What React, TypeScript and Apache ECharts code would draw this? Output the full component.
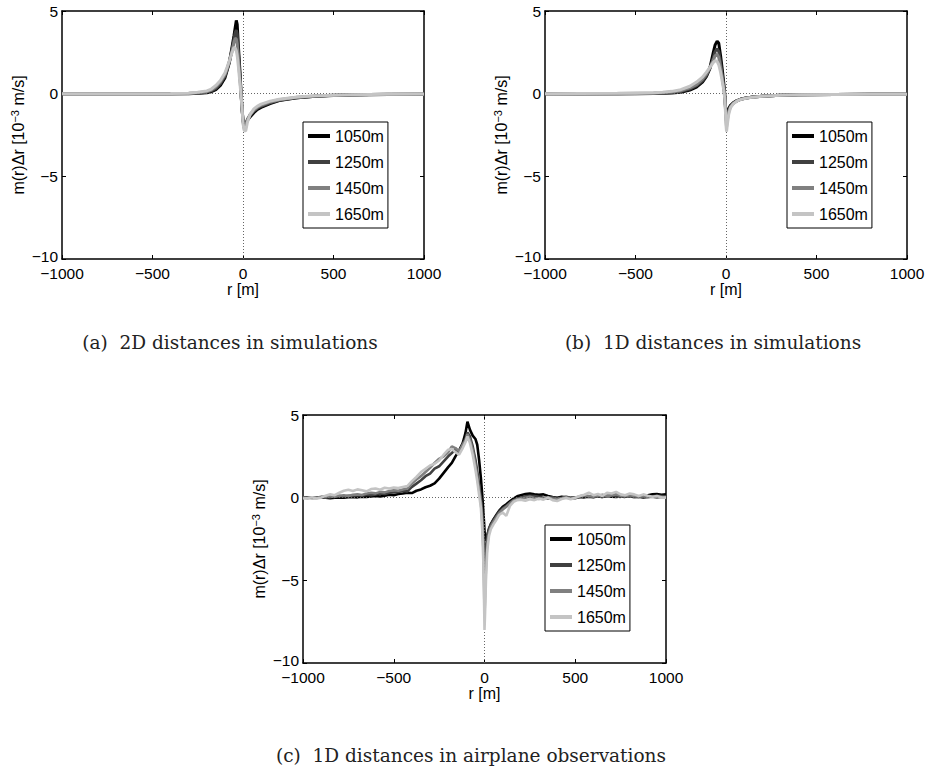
import React, { useEffect, useRef } from "react";
import * as echarts from "echarts";

// ---------- data ----------
const SERIES_NAMES = ["1050m", "1250m", "1450m", "1650m"];

// (a) 2D distances in simulations
const XA = [-1000, -800, -600, -400, -300, -250, -200, -175, -150, -125, -100, -88, -75, -60, -50, -43, -37, -32, -26, -20, -15, -11, -5, 0, 7, 15, 25, 40, 60, 80, 100, 150, 200, 300, 400, 500, 600, 800, 1000];
const A_1050 = [0, 0, 0, 0, 0, 0.02, 0.06, 0.12, 0.25, 0.5, 0.95, 1.4, 1.9, 2.85, 3.5, 4.0, 4.43, 4.2, 3.0, 1.9, 1.0, 0.0, -1.0, -1.6, -2.0, -1.85, -1.6, -1.4, -1.15, -0.95, -0.83, -0.6, -0.42, -0.25, -0.16, -0.11, -0.08, -0.05, -0.03];
const A_1250 = [0, 0, 0, 0, 0.01, 0.03, 0.09, 0.17, 0.32, 0.6, 1.05, 1.45, 1.95, 2.7, 3.3, 3.7, 3.85, 3.6, 2.6, 1.6, 0.8, 0.1, -0.9, -1.6, -2.05, -1.85, -1.55, -1.3, -1.05, -0.88, -0.76, -0.55, -0.4, -0.24, -0.15, -0.1, -0.07, -0.04, -0.03];
const A_1450 = [0, 0, 0, 0.01, 0.02, 0.05, 0.12, 0.22, 0.4, 0.7, 1.15, 1.5, 1.95, 2.6, 3.1, 3.35, 3.3, 3.0, 2.2, 1.3, 0.6, 0.0, -0.9, -1.7, -2.15, -1.9, -1.55, -1.25, -1.0, -0.82, -0.7, -0.5, -0.37, -0.22, -0.14, -0.1, -0.07, -0.04, -0.03];
const A_1650 = [0, 0, 0, 0.01, 0.03, 0.08, 0.17, 0.28, 0.5, 0.8, 1.25, 1.6, 2.0, 2.5, 2.8, 2.75, 2.6, 2.3, 1.7, 1.0, 0.4, -0.1, -0.9, -1.8, -2.25, -2.25, -1.7, -1.25, -0.92, -0.75, -0.63, -0.45, -0.34, -0.2, -0.13, -0.09, -0.06, -0.04, -0.02];

// (b) 1D distances in simulations
const XB = [-1000, -800, -600, -500, -400, -350, -300, -250, -200, -163, -130, -108, -90, -71, -60, -49, -40, -30, -20, -12, -7, -3, 0, 3, 7, 15, 25, 40, 60, 80, 110, 150, 200, 300, 400, 600, 800, 1000];
const B_1050 = [0, 0, 0, 0, 0.01, 0.02, 0.04, 0.08, 0.22, 0.4, 0.7, 1.05, 1.5, 2.45, 2.95, 3.18, 3.05, 2.3, 1.4, 0.6, 0.0, -0.7, -1.2, -1.4, -1.2, -0.9, -0.7, -0.55, -0.42, -0.34, -0.26, -0.2, -0.15, -0.1, -0.07, -0.05, -0.04, -0.03];
const B_1250 = [0, 0, 0, 0.01, 0.02, 0.04, 0.07, 0.12, 0.28, 0.48, 0.78, 1.1, 1.5, 2.15, 2.55, 2.72, 2.55, 1.9, 1.1, 0.4, -0.1, -0.8, -1.4, -1.7, -1.4, -1.0, -0.75, -0.57, -0.43, -0.34, -0.26, -0.2, -0.15, -0.1, -0.07, -0.05, -0.04, -0.03];
const B_1450 = [0, 0, 0.01, 0.02, 0.03, 0.06, 0.1, 0.17, 0.35, 0.55, 0.88, 1.18, 1.55, 2.0, 2.3, 2.38, 2.2, 1.6, 0.9, 0.3, -0.2, -0.9, -1.6, -2.0, -1.6, -1.1, -0.8, -0.6, -0.44, -0.35, -0.27, -0.2, -0.15, -0.1, -0.07, -0.05, -0.04, -0.03];
const B_1650 = [0, 0.01, 0.02, 0.03, 0.05, 0.09, 0.14, 0.24, 0.45, 0.7, 1.0, 1.3, 1.58, 1.88, 2.0, 1.95, 1.75, 1.3, 0.7, 0.2, -0.3, -1.1, -1.9, -2.3, -1.9, -1.25, -0.85, -0.62, -0.45, -0.36, -0.28, -0.21, -0.16, -0.1, -0.07, -0.05, -0.04, -0.03];

// (c) 1D distances in airplane observations
const XC = [
  -1000, -975, -950, -925, -900, -875, -850, -825, -800, -775, -750, -725, -700, -675, -650, -625, -600, -575, -550, -525, -500, -475, -450, -425, -400, -375, -350, -325, -300, -275, -250, -225, -200,
  -180, -160, -140, -120, -105, -94, -80, -65, -50, -40, -30, -20, -12, -6, -2, 0, 3, 8, 15, 25, 35, 50, 65, 80, 100, 120, 140, 160, 180,
  200, 225, 250, 275, 300, 325, 350, 375, 400, 425, 450, 475, 500, 525, 550, 575, 600, 625, 650, 675, 700, 725, 750, 775, 800, 825, 850, 875, 900, 925, 950, 975, 1000,
];
const C_1050 = [
  0.0, 0.0, -0.02, 0.0, 0.02, 0.0, -0.03, 0.0, 0.02, 0.0, 0.03, 0.05, 0.02, 0.06, 0.04, 0.08, 0.1, 0.07, 0.12, 0.18, 0.15, 0.22, 0.25, 0.3, 0.28, 0.42, 0.5, 0.63, 0.72, 0.86, 1.15, 1.5, 1.85,
  2.1, 2.5, 2.85, 3.3, 3.9, 4.6, 4.1, 3.75, 3.55, 3.2, 2.3, 1.2, 0.1, -0.9, -1.6, -2.0, -2.4, -2.6, -2.3, -1.9, -1.6, -1.3, -1.05, -0.8, -0.55, -0.4, -0.22, -0.06, 0.08,
  0.15, 0.22, 0.25, 0.2, 0.18, 0.2, 0.1, 0.04, 0.0, 0.05, 0.02, -0.03, 0.0, 0.04, 0.02, 0.06, 0.03, 0.08, 0.05, 0.1, 0.06, 0.04, 0.08, 0.05, 0.1, 0.06, 0.04, 0.1, 0.15, 0.2, 0.22, 0.18, 0.2,
];
const C_1250 = [
  0.0, 0.02, 0.0, -0.02, 0.03, 0.05, 0.02, 0.08, 0.1, 0.07, 0.12, 0.1, 0.15, 0.12, 0.18, 0.15, 0.2, 0.25, 0.22, 0.3, 0.32, 0.35, 0.4, 0.38, 0.65, 0.85, 1.05, 1.3, 1.45, 1.75, 1.9, 2.2, 2.5,
  2.7, 2.95, 2.75, 3.25, 3.55, 3.95, 3.7, 3.1, 2.3, 1.6, 0.8, 0.0, -1.0, -2.4, -3.8, -4.8, -4.0, -3.0, -2.3, -1.85, -1.6, -1.35, -1.1, -0.85, -0.65, -0.5, -0.3, -0.15, -0.05,
  0.0, 0.08, 0.12, 0.1, 0.05, 0.0, -0.05, 0.02, -0.04, 0.0, 0.05, 0.0, -0.03, 0.05, 0.1, 0.06, 0.12, 0.08, 0.04, 0.1, 0.15, 0.08, 0.05, 0.12, 0.08, 0.02, 0.06, 0.0, 0.04, 0.08, 0.12, 0.1, 0.08,
];
const C_1450 = [
  0.0, -0.03, 0.02, 0.0, 0.05, 0.03, 0.08, 0.05, 0.12, 0.15, 0.1, 0.18, 0.2, 0.16, 0.25, 0.3, 0.26, 0.35, 0.32, 0.4, 0.45, 0.42, 0.5, 0.55, 0.85, 1.1, 1.3, 1.55, 1.8, 2.1, 2.35, 2.5, 2.75,
  3.1, 3.0, 2.8, 3.2, 3.45, 3.85, 3.5, 2.9, 2.0, 1.3, 0.5, -0.3, -1.5, -3.2, -5.5, -7.2, -6.0, -4.2, -2.8, -2.1, -1.75, -1.45, -1.2, -0.95, -0.72, -0.55, -0.35, -0.18, -0.1,
  -0.05, 0.0, 0.05, -0.02, -0.08, -0.02, 0.03, -0.05, -0.1, -0.04, 0.02, -0.05, 0.0, 0.08, 0.15, 0.1, 0.05, 0.12, 0.18, 0.1, 0.14, 0.2, 0.12, 0.08, 0.15, 0.1, 0.05, 0.1, 0.02, 0.06, 0.0, 0.04, 0.02,
];
const C_1650 = [
  -0.05, -0.02, 0.03, -0.05, 0.0, 0.12, 0.2, 0.15, 0.3, 0.42, 0.48, 0.4, 0.5, 0.45, 0.38, 0.52, 0.55, 0.48, 0.6, 0.55, 0.62, 0.58, 0.65, 0.7, 1.0, 1.25, 1.55, 1.75, 1.95, 2.05, 2.25, 2.6, 2.9,
  2.95, 2.75, 2.6, 3.0, 3.35, 3.7, 3.3, 2.6, 1.7, 1.0, 0.2, -0.6, -2.0, -4.0, -6.5, -8.0, -7.0, -5.0, -3.2, -2.3, -1.9, -1.6, -1.35, -1.05, -0.9, -1.1, -0.5, -0.25, -0.15,
  -0.12, -0.18, -0.1, -0.15, -0.05, -0.12, 0.0, -0.15, -0.2, -0.08, -0.02, -0.1, 0.0, 0.1, 0.18, 0.3, 0.15, 0.22, 0.1, 0.3, 0.25, 0.35, 0.2, 0.15, 0.25, 0.2, 0.1, 0.2, 0.12, 0.05, 0.1, 0.02, 0.0,
];

const CAPTIONS = [
  "(a)  2D distances in simulations",
  "(b)  1D distances in simulations",
  "(c)  1D distances in airplane observations",
];
const X_TICKS = { min: -1000, max: 1000, interval: 500 };
const Y_TICKS = { min: -10, max: 5, interval: 5 };

// ---------- layout / style ----------
const PANELS = [
  { xs: XA, ys: [A_1050, A_1250, A_1450, A_1650], grid: { left: 62, top: 11, width: 362, height: 248 }, legend: { left: 303, top: 122 }, caption: { x: 230, y: 342 }, lw: 3 },
  { xs: XB, ys: [B_1050, B_1250, B_1450, B_1650], grid: { left: 545, top: 11, width: 362, height: 248 }, legend: { left: 787, top: 122 }, caption: { x: 713, y: 342 }, lw: 3 },
  { xs: XC, ys: [C_1050, C_1250, C_1450, C_1650], grid: { left: 303, top: 415, width: 363, height: 248 }, legend: { left: 545, top: 525 }, caption: { x: 471, y: 755 }, lw: 2.6 },
];
const COLORS = ["#000000", "#404040", "#808080", "#c4c4c4"];
const FONT = "'Liberation Sans', Arial, Helvetica, sans-serif";
const SERIF = "'DejaVu Serif', serif";
const minusFmt = (v: number) => String(v).replace("-", "\u2212");
const yFmt = (v: number) => (v === Y_TICKS.min ? "{lo|" + minusFmt(v) + "}" : minusFmt(v));

function buildOption() {
  const xAxis: any[] = [];
  const yAxis: any[] = [];
  const series: any[] = [];
  const legend: any[] = [];
  const graphic: any[] = [];

  PANELS.forEach((p, gi) => {
    const axisLine = { onZero: false, lineStyle: { color: "#000", width: 1.5 } };
    const axisTick = { inside: true, length: 4, lineStyle: { color: "#000", width: 1 } };
    const xc = { type: "value", gridIndex: gi, ...X_TICKS, splitLine: { show: false }, axisLine, axisTick };
    const yc = { type: "value", gridIndex: gi, ...Y_TICKS, splitLine: { show: false }, axisLine, axisTick };
    xAxis.push({
      ...xc,
      position: "bottom",
      name: "r [m]",
      nameLocation: "middle",
      nameGap: 21,
      nameTextStyle: { fontSize: 16, color: "#000", fontFamily: FONT },
      axisLabel: { margin: 7, fontSize: 15.5, lineHeight: 14, color: "#000", fontFamily: FONT, formatter: minusFmt },
    });
    xAxis.push({ ...xc, position: "top", axisLabel: { show: false } });
    yAxis.push({
      ...yc,
      position: "left",
      name: "m(r)\u0394r [10{sup|\u22123} m/s]",
      nameLocation: "middle",
      nameGap: 35,
      nameTextStyle: {
        fontSize: 16,
        color: "#000",
        fontFamily: FONT,
        lineHeight: 18,
        rich: { sup: { fontSize: 11, color: "#000", fontFamily: FONT, verticalAlign: "top", lineHeight: 18 } },
      },
      axisLabel: {
        margin: 4,
        fontSize: 15.5,
        lineHeight: 12,
        color: "#000",
        fontFamily: FONT,
        formatter: yFmt,
        rich: { lo: { fontSize: 15.5, lineHeight: 12, color: "#000", fontFamily: FONT, padding: [0, 0, 6, 0] } },
      },
    });
    yAxis.push({ ...yc, position: "right", axisLabel: { show: false } });

    SERIES_NAMES.forEach((name, k) => {
      const s: any = {
        type: "line",
        name,
        xAxisIndex: gi * 2,
        yAxisIndex: gi * 2,
        data: p.xs.map((x, i) => [x, p.ys[k][i]]),
        symbol: "none",
        showSymbol: false,
        lineStyle: { color: COLORS[k], width: p.lw },
        itemStyle: { color: COLORS[k] },
        z: 2 + k,
      };
      if (k === SERIES_NAMES.length - 1) {
        s.markLine = {
          silent: true,
          symbol: "none",
          label: { show: false },
          lineStyle: { color: "#666", width: 1, type: [1, 2] },
          data: [{ yAxis: 0 }, { xAxis: 0 }],
        };
      }
      series.push(s);
    });

    legend.push({
      left: p.legend.left,
      top: p.legend.top,
      orient: "vertical",
      data: SERIES_NAMES,
      icon: "rect",
      itemWidth: 22,
      itemHeight: 4,
      itemGap: 10,
      padding: [6, 4, 6, 5],
      borderColor: "#000",
      borderWidth: 1,
      backgroundColor: "#fff",
      selectedMode: false,
      textStyle: { fontSize: 16, color: "#000", fontFamily: FONT, lineHeight: 15 },
    });

    graphic.push({
      type: "text",
      x: p.caption.x,
      y: p.caption.y,
      style: {
        text: CAPTIONS[gi],
        fontSize: 18.5,
        fontFamily: SERIF,
        fill: "#222",
        align: "center",
        verticalAlign: "middle",
        textAlign: "center",
        textVerticalAlign: "middle",
      },
    });
  });

  return {
    animation: false,
    backgroundColor: "#fff",
    textStyle: { fontFamily: FONT },
    grid: PANELS.map((p) => ({ ...p.grid, containLabel: false })),
    xAxis,
    yAxis,
    legend,
    series,
    graphic,
  };
}

export default function App() {
  const ref = useRef<HTMLDivElement>(null);
  useEffect(() => {
    if (!ref.current) return;
    const chart = echarts.init(ref.current, undefined, { renderer: "svg" });
    chart.setOption(buildOption() as any);
    return () => chart.dispose();
  }, []);
  return (
    <div
      ref={ref}
      style={{ position: "absolute", left: 0, top: 0, width: 930, height: 769, background: "#fff" }}
    />
  );
}
